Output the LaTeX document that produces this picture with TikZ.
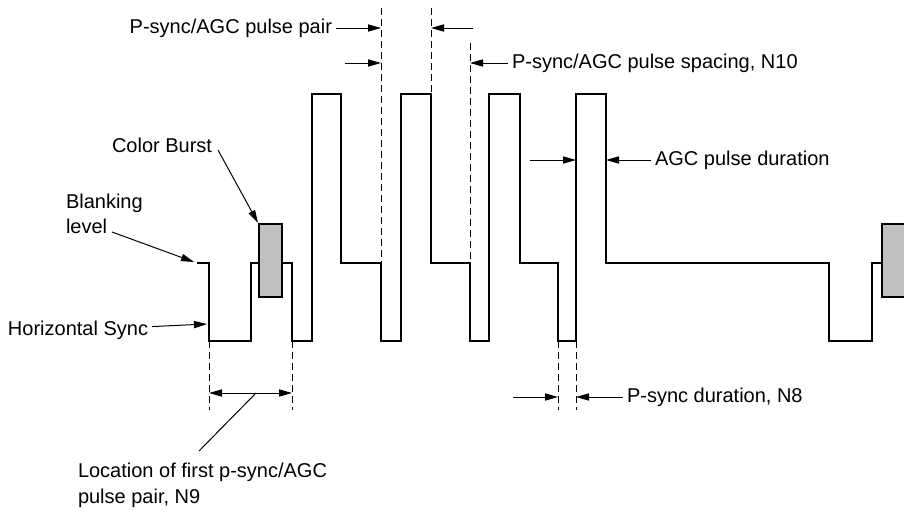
\documentclass[tikz,border=0pt]{standalone}
\usepackage{fontspec}
\setmainfont{Liberation Sans}
\usepackage{tikz}
\usetikzlibrary{arrows.meta,positioning,calc}
\tikzset{
  signal/.style={
      draw,
      line width=1.1pt,
  },
  burst/.style={
      draw,
      line width=1.1pt,
      fill=black!25,
  },
  guide/.style={
      draw,
      line width=0.5pt,
      dash pattern=on 3.5pt off 2pt,
  },
  pointer/.style={
      draw,
      line width=0.5pt,
      -{Triangle[length=6.5pt,width=3.6pt]},
  },
  twoway/.style={
      draw,
      line width=0.5pt,
      {Triangle[length=6.5pt,width=3.6pt]}-{Triangle[length=6.5pt,width=3.6pt]},
  },
  leader/.style={
      draw,
      line width=0.5pt,
  },
  caption/.style={
      font=\fontsize{10}{12.75}\selectfont,
      inner sep=0pt,
      outer sep=2pt,
      align=left,
  },
}

\begin{document}
\begin{tikzpicture}[x=0.5pt,y=-0.5pt]
  \useasboundingbox (0,0) rectangle (904,514);
  \clip (0,0) rectangle (904,514);

  % waveform
  \draw[signal] (197,263) -- (209,263) -- (209,341) -- (251,341) -- (251,263)
      -- (292,263) -- (292,341) -- (312,341) -- (312,94) -- (341,94)
      -- (341,263) -- (381,263) -- (381,341) -- (401,341) -- (401,94)
      -- (431,94) -- (431,263) -- (470,263) -- (470,341) -- (489,341)
      -- (489,94) -- (520,94) -- (520,263) -- (558,263) -- (558,341)
      -- (576,341) -- (576,94) -- (606,94) -- (606,263) -- (829,263)
      -- (829,341) -- (872,341) -- (872,263) -- (904,263);
  \draw[burst] (259,224) rectangle (282,297);
  \draw[burst] (882,224) rectangle (912,297);

  % guides
  \draw[guide] (381,8) -- (381,263);
  \draw[guide] (431,8) -- (431,94);
  \draw[guide] (470,43) -- (470,263);
  \draw[guide] (209,341) -- (209,410);
  \draw[guide] (292,341) -- (292,410);
  \draw[guide] (558,341) -- (558,410);
  \draw[guide] (576,341) -- (576,410);

  % labels
  \node[caption, anchor=east] (pairtxt) at (336,28) {P-sync/AGC pulse pair};
  \node[caption, anchor=west] (spacingtxt) at (508,63) {P-sync/AGC pulse spacing, N10};
  \node[caption, anchor=west] (agctxt) at (651,160) {AGC pulse duration};
  \node[caption, anchor=west] (psynctxt) at (623,397) {P-sync duration, N8};
  \node[caption, anchor=base west] (bursttxt) at (108,152) {Color Burst};
  \node[caption, anchor=north west] (blanktxt) at (62,190) {Blanking\\level};
  \node[caption, anchor=west] (hsynctxt) at (4,330) {Horizontal Sync};
  \node[caption, anchor=north west] (loctxt) at (74,459)
      {Location of first p-sync/AGC\\pulse pair, N9};

  % arrow ends
  \coordinate (pairA) at (381,28);
  \coordinate (pairBtail) at (345,63);
  \coordinate (pairB) at (381,63);
  \coordinate (pairCtail) at (473,28);
  \coordinate (pairC) at (431,28);
  \coordinate (spacingend) at (470,63);
  \coordinate (agcAtail) at (530,160);
  \coordinate (agcA) at (576,160);
  \coordinate (agcB) at (606,160);
  \coordinate (psyncAtail) at (513,397);
  \coordinate (psyncA) at (558,397);
  \coordinate (psyncB) at (576,397);
  \coordinate (bursttail) at (218,150);
  \coordinate (burstend) at (258,223);
  \coordinate (blanktail) at (112,232);
  \coordinate (blankend) at (194,262);
  \coordinate (hsyncend) at (207,324);
  \coordinate (locA) at (209,393);
  \coordinate (locB) at (292,393);
  \coordinate (locmid) at (256,393);
  \coordinate (loctail) at (199,451);

  \draw[pointer] (pairtxt) -- (pairA);
  \draw[pointer] (pairBtail) -- (pairB);
  \draw[pointer] (pairCtail) -- (pairC);
  \draw[pointer] (spacingtxt) -- (spacingend);
  \draw[pointer] (agcAtail) -- (agcA);
  \draw[pointer] (agctxt) -- (agcB);
  \draw[pointer] (psyncAtail) -- (psyncA);
  \draw[pointer] (psynctxt) -- (psyncB);
  \draw[pointer] (bursttail) -- (burstend);
  \draw[pointer] (blanktail) -- (blankend);
  \draw[pointer] (hsynctxt) -- (hsyncend);
  \draw[twoway] (locA) -- (locB);
  \draw[leader] (locmid) -- (loctail);
\end{tikzpicture}
\end{document}
